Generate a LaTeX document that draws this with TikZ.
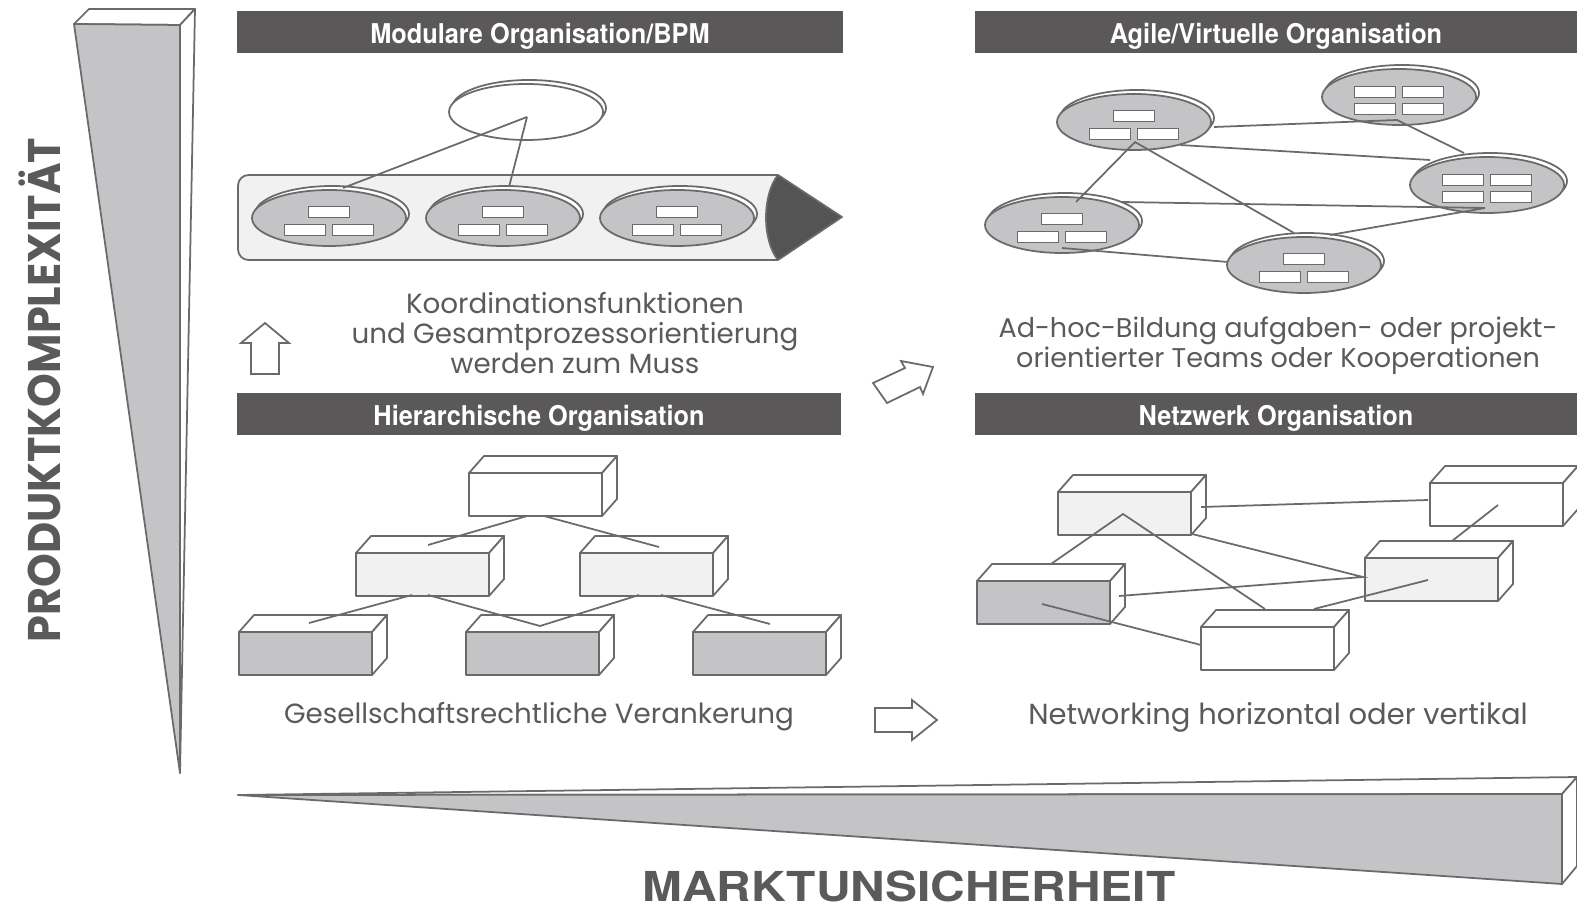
\documentclass[tikz,border=0pt]{standalone}
\usepackage{fontspec}
\setmainfont{Poppins}
\newfontfamily\titlefont{TeX Gyre Heros}[FakeStretch=0.93]
\newfontfamily\axisfont{Poppins}[FakeStretch=0.94]
\newfontfamily\xaxisfont{TeX Gyre Heros}[FakeStretch=1.16]
\usetikzlibrary{positioning,calc}

\definecolor{bardark}{HTML}{5A5859}
\definecolor{edgegray}{HTML}{6B6A6B}
\definecolor{fillgray}{HTML}{C4C3C5}
\definecolor{fillpale}{HTML}{F1F1F1}
\definecolor{textgray}{HTML}{5A5A5A}
\definecolor{conegray}{HTML}{555455}

\tikzset{
  titlebar/.style={fill=bardark, inner sep=0pt, minimum height=0.84cm,
    text height=13.2pt, text depth=0pt,
    text=white, font=\titlefont\bfseries\fontsize{15.5}{18}\selectfont},
  caption/.style={text=textgray, align=center, inner sep=0pt,
    font=\fontsize{15.8}{17}\selectfont},
  axislabel/.style={text=textgray, inner sep=0pt},
  outline/.style={draw=edgegray, line width=1pt, line join=round},
  link/.style={draw=edgegray, line width=1pt},
  hollowarrow/.style={draw=edgegray, line width=1pt, fill=white}
}

% 3d box: name, front top-left corner, front colour
\newcommand{\orgbox}[3]{%
  \coordinate (#1) at (#2);
  \filldraw[outline, fill=white] (#1) -- ++(15,-17) -- ++(133,0) -- ++(-15,17) -- cycle;
  \filldraw[outline, fill=white] ($(#1)+(133,0)$) -- ++(15,-17) -- ++(0,43) -- ++(-15,17) -- cycle;
  \filldraw[outline, fill=#3] (#1) rectangle ++(133,43);
}
% disk with a rim: name, centre, fill
\newcommand{\orgdisk}[3]{%
  \coordinate (#1) at (#2);
  \filldraw[outline, fill=white] ($(#1)+(3,-4)$) ellipse [x radius=77, y radius=28];
  \filldraw[outline, fill=#3] (#1) ellipse [x radius=77, y radius=28];
}
% small white cell of an org chart, centred
\newcommand{\orgcell}[1]{%
  \filldraw[outline, fill=white] ($#1+(-20.5,-5.5)$) rectangle ++(41,11);
}
\newcommand{\chartthree}[1]{%
  \orgcell{(#1)+(0,-6)}\orgcell{(#1)+(-24,12)}\orgcell{(#1)+(24,12)}%
}
\newcommand{\chartfour}[1]{%
  \orgcell{(#1)+(-24,-5)}\orgcell{(#1)+(24,-5)}\orgcell{(#1)+(-24,12)}\orgcell{(#1)+(24,12)}%
}

\begin{document}
\begin{tikzpicture}[x=0.02cm, y=-0.02cm]
  \useasboundingbox (0,0) rectangle (1577,911);

  % axes
  \filldraw[outline, fill=white] (74,24) -- (89,9) -- (195,9) -- (180,25) -- cycle;
  \filldraw[outline, fill=white] (180,25) -- (195,9) -- (180,773) -- cycle;
  \filldraw[outline, fill=fillgray] (74,24) -- (180,25) -- (180,773) -- cycle;
  \node[axislabel, rotate=90, font=\axisfont\bfseries\fontsize{26}{30}\selectfont]
    (yLabel) at (40,390) {PRODUKTKOMPLEXITÄT};

  \filldraw[outline, fill=white] (238,795) -- (1577,777) -- (1562,794) -- cycle;
  \filldraw[outline, fill=white] (1562,794) -- (1577,777) -- (1577,866) -- (1562,884) -- cycle;
  \filldraw[outline, fill=fillgray] (238,795) -- (1562,794) -- (1562,884) -- cycle;
  \node[axislabel, font=\xaxisfont\bfseries\fontsize{23.5}{28}\selectfont]
    (xLabel) at (909,886) {MARKTUNSICHERHEIT};

  % title bars
  \node[titlebar, minimum width=12.12cm] (barModular) at (540,32) {Modulare Organisation/BPM};
  \node[titlebar, minimum width=12.04cm] (barAgile) at (1276,32) {Agile/Virtuelle Organisation};
  \node[titlebar, minimum width=12.08cm] (barHier) at (539,414) {Hierarchische Organisation};
  \node[titlebar, minimum width=12.04cm] (barNetz) at (1276,414) {Netzwerk Organisation};

  % modular organisation: pipe with process disks
  \filldraw[outline, fill=fillpale, rounded corners=6pt]
    (778,175) -- (238,175) -- (238,260) -- (778,260);
  \filldraw[outline, fill=conegray]
    (778,175) .. controls (762,195) and (762,240) .. (778,260) -- (842,217) -- cycle;
  \orgdisk{top}{526,112}{white}
  \orgdisk{m1}{329,218}{fillgray}
  \orgdisk{m2}{503,218}{fillgray}
  \orgdisk{m3}{677,218}{fillgray}
  \chartthree{m1}
  \chartthree{m2}
  \chartthree{m3}
  \draw[link] ($(top)+(1,5)$) -- ($(m1)+(14,-30)$);
  \draw[link] ($(top)+(1,5)$) -- ($(m2)+(6,-31)$);

  % agile organisation
  \orgdisk{a1}{1134,122}{fillgray}
  \orgdisk{a2}{1399,97}{fillgray}
  \orgdisk{a3}{1487,185}{fillgray}
  \orgdisk{a4}{1062,225}{fillgray}
  \orgdisk{a5}{1304,265}{fillgray}
  \chartthree{a1}
  \chartfour{a2}
  \chartfour{a3}
  \chartthree{a4}
  \chartthree{a5}
  \draw[link] ($(a1)+(80,5)$) -- ($(a2)+(-2,23)$) -- ($(a3)+(-23,-32)$);
  \draw[link] ($(a1)+(46,23)$) -- ($(a3)+(-57,-25)$);
  \draw[link] ($(a4)+(14,-23)$) -- ($(a1)+(1,20)$) -- ($(a5)+(-10,-32)$);
  \draw[link] ($(a4)+(59,-23)$) -- ($(a3)+(-2,23)$) -- ($(a5)+(26,-30)$);
  \draw[link] ($(a4)+(0,23)$) -- ($(a5)+(-76,-3)$);

  % hierarchical organisation
  \orgbox{h0}{469,473}{white}
  \orgbox{h1}{356,553}{fillpale}
  \orgbox{h2}{580,553}{fillpale}
  \orgbox{h3}{239,632}{fillgray}
  \orgbox{h4}{466,632}{fillgray}
  \orgbox{h5}{693,632}{fillgray}
  \draw[link] ($(h0)+(58,43)$) -- ($(h1)+(72,-8)$);
  \draw[link] ($(h0)+(75,43)$) -- ($(h2)+(79,-6)$);
  \draw[link] ($(h1)+(56,42)$) -- ($(h3)+(70,-9)$);
  \draw[link] ($(h1)+(72,42)$) -- ($(h4)+(74,-6)$) -- ($(h2)+(59,42)$);
  \draw[link] ($(h2)+(81,42)$) -- ($(h5)+(77,-8)$);

  % network organisation
  \orgbox{n1}{1058,492}{fillpale}
  \orgbox{n2}{1430,483}{white}
  \orgbox{n3}{1365,558}{fillpale}
  \orgbox{n4}{977,581}{fillgray}
  \orgbox{n5}{1201,627}{white}
  \draw[link] ($(n1)+(143,15)$) -- ($(n2)+(-2,17)$);
  \draw[link] ($(n2)+(68,22)$) -- ($(n3)+(87,-17)$);
  \draw[link] ($(n4)+(74,-17)$) -- ($(n1)+(65,22)$) -- ($(n5)+(64,-18)$);
  \draw[link] ($(n1)+(134,42)$) -- ($(n3)+(-2,19)$) -- ($(n4)+(142,15)$);
  \draw[link] ($(n3)+(63,22)$) -- ($(n5)+(113,-18)$);
  \draw[link] ($(n4)+(65,23)$) -- ($(n5)+(0,18)$);

  % hollow arrows
  \filldraw[hollowarrow] (265,323) -- (289,343) -- (279,343) -- (279,374)
    -- (251,374) -- (251,343) -- (241,343) -- cycle;
  \filldraw[hollowarrow] (873,383) -- (905,368) -- (901,361) -- (933,367)
    -- (923,394) -- (920,387) -- (887,403) -- cycle;
  \filldraw[hollowarrow] (875,708) -- (912,708) -- (912,700) -- (937,720)
    -- (912,740) -- (912,732) -- (875,732) -- cycle;

  % captions
  \node[caption] (capKoord) at (575,333)
    {Koordinationsfunktionen\\und Gesamtprozessorientierung\\werden zum Muss};
  \node[caption, font=\fontsize{15.4}{17}\selectfont] (capAdhoc) at (1278,346)
    {Ad-hoc-Bildung aufgaben- oder projekt-\\orientierter Teams oder Kooperationen};
  \node[caption] (capGes) at (539,717) {Gesellschaftsrechtliche Verankerung};
  \node[caption, font=\fontsize{16.5}{18}\selectfont] (capNet) at (1278,717)
    {Networking horizontal oder vertikal};
\end{tikzpicture}
\end{document}
